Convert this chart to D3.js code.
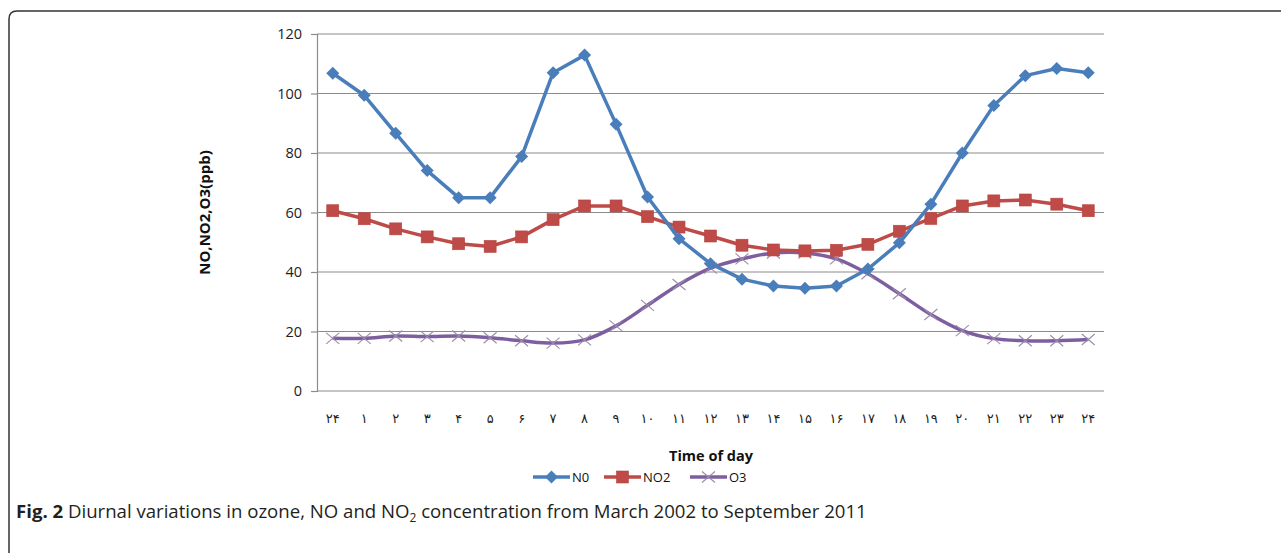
<!DOCTYPE html>
<html>
<head>
<meta charset="utf-8">
<script src="https://cdn.jsdelivr.net/npm/d3@7"></script>
<style>
  body { margin: 0; background: #fff; }
  text { font-family: "Open Sans", "Noto Sans", sans-serif; }
</style>
</head>
<body>
<script>
// hours of the day, Persian digits as in the figure
var hours = ["۲۴", "۱", "۲", "۳", "۴", "۵", "۶", "۷", "۸", "۹", "۱۰", "۱۱", "۱۲",
             "۱۳", "۱۴", "۱۵", "۱۶", "۱۷", "۱۸", "۱۹", "۲۰", "۲۱", "۲۲", "۲۳", "۲۴"];

var noValues = [106.8, 99.4, 86.6, 74.1, 65.0, 65.0, 78.8, 107.0, 112.9, 89.7, 65.2, 51.2, 42.8,
                37.6, 35.3, 34.5, 35.3, 41.0, 49.8, 62.8, 80.0, 96.0, 106.0, 108.4, 107.0];
var no2Values = [60.6, 57.9, 54.5, 51.8, 49.5, 48.6, 51.8, 57.6, 62.2, 62.2, 58.6, 55.1, 52.1,
                 49.0, 47.4, 47.1, 47.3, 49.3, 53.7, 58.0, 62.2, 63.9, 64.2, 62.8, 60.6];
var o3Values = [17.7, 17.7, 18.5, 18.3, 18.5, 17.9, 16.9, 16.1, 17.2, 21.9, 28.8, 35.8, 41.3,
                44.4, 46.4, 46.4, 44.4, 39.4, 32.7, 25.7, 20.3, 17.6, 16.9, 16.9, 17.3];
var yTicks = [0, 20, 40, 60, 80, 100, 120];

var seriesNames = ["N0", "NO2", "O3"];
var seriesColors = ["#4a7ebb", "#be4b48", "#7d5fa0"];

window.onload = function() {
    var w = 1281, h = 553;
    var svg = d3.select("body").append("svg")
        .attr("width", w)
        .attr("height", h);

    // figure frame (rounded top-left corner)
    svg.append("path")
        .attr("d", "M9,553 L9,19 Q9,11 17,11 L1281,11")
        .attr("fill", "none")
        .attr("stroke", "#333")
        .attr("stroke-width", 1.5);

    var left = 317, right = 1104, top = 34, bottom = 391;

    var x = d3.scalePoint()
        .domain(d3.range(hours.length))
        .range([left, right])
        .padding(0.5);

    var y = d3.scaleLinear()
        .domain([0, 120])
        .range([bottom, top]);

    // gridlines
    svg.append("g").selectAll("line")
        .data(yTicks.slice(1))
        .enter().append("line")
        .attr("x1", left).attr("x2", right)
        .attr("y1", function(d) { return y(d); })
        .attr("y2", function(d) { return y(d); })
        .attr("stroke", "#8c8c8c")
        .attr("stroke-width", 1.2);

    // y axis
    var yAxis = d3.axisLeft(y).tickValues(yTicks).tickSize(6).tickPadding(9);
    var ya = svg.append("g")
        .attr("transform", "translate(" + left + ",0)")
        .call(yAxis);
    ya.select(".domain").attr("stroke", "#8c8c8c").attr("stroke-width", 1.2);
    ya.selectAll(".tick line").attr("stroke", "#8c8c8c").attr("stroke-width", 1.2);
    ya.selectAll("text")
        .attr("font-family", "'Open Sans', sans-serif")
        .attr("font-size", 14.5)
        .attr("fill", "#222");

    // x axis baseline
    svg.append("line")
        .attr("x1", left).attr("x2", right)
        .attr("y1", bottom).attr("y2", bottom)
        .attr("stroke", "#8c8c8c")
        .attr("stroke-width", 1.2);

    // x labels
    svg.append("g").selectAll("text")
        .data(hours)
        .enter().append("text")
        .attr("x", function(d, i) { return x(i); })
        .attr("y", 423)
        .attr("text-anchor", "middle")
        .style("font-family", "'DejaVu Sans', sans-serif")
        .style("font-size", "13px")
        .style("letter-spacing", "2px")
        .attr("fill", "#222")
        .text(function(d) { return d; });

    // axis titles
    svg.append("text")
        .attr("transform", "translate(210," + ((top + bottom) / 2) + ") rotate(-90)")
        .attr("text-anchor", "middle")
        .style("font-size", "15px")
        .style("font-weight", "bold")
        .attr("fill", "#111")
        .text("NO,NO2,O3(ppb)");

    svg.append("text")
        .attr("x", 711)
        .attr("y", 461)
        .attr("text-anchor", "middle")
        .style("font-size", "14.5px")
        .style("font-weight", "bold")
        .attr("fill", "#111")
        .text("Time of day");

    var allSeries = [noValues, no2Values, o3Values];

    var straight = d3.line()
        .x(function(d, i) { return x(i); })
        .y(function(d) { return y(d); });
    var smooth = d3.line()
        .x(function(d, i) { return x(i); })
        .y(function(d) { return y(d); })
        .curve(d3.curveCatmullRom.alpha(0.5));

    // draw O3 first so NO and NO2 sit on top
    [2, 1, 0].forEach(function(k) {
        var vals = allSeries[k];
        var col = seriesColors[k];
        svg.append("path")
            .datum(vals)
            .attr("d", k === 2 ? smooth : straight)
            .attr("fill", "none")
            .attr("stroke", col)
            .attr("stroke-width", 3.5)
            .attr("stroke-linejoin", "round");

        var m = svg.append("g").selectAll("g")
            .data(vals)
            .enter().append("g")
            .attr("transform", function(d, i) { return "translate(" + x(i) + "," + y(d) + ")"; });
        drawMarker(m, k);
    });

    function drawMarker(sel, k) {
        if (k === 0) {
            sel.append("path")
                .attr("d", "M0,-6.5 L6.5,0 L0,6.5 L-6.5,0 Z")
                .attr("fill", seriesColors[0]);
        } else if (k === 1) {
            sel.append("rect")
                .attr("x", -6).attr("y", -6)
                .attr("width", 12).attr("height", 12)
                .attr("fill", seriesColors[1])
                .attr("stroke", "#b84440")
                .attr("stroke-width", 0.6);
        } else {
            sel.append("path")
                .attr("d", "M-6.5,-5.5 L6.5,5.5 M-6.5,5.5 L6.5,-5.5")
                .attr("stroke", "#9a8bab")
                .attr("stroke-width", 1.1);
        }
    }

    // legend
    var legendX = [533, 604, 690];
    var legend = svg.append("g").selectAll("g")
        .data(seriesNames)
        .enter().append("g")
        .attr("transform", function(d, i) { return "translate(" + legendX[i] + ",477)"; });
    legend.append("line")
        .attr("x1", 0).attr("x2", 37)
        .attr("stroke", function(d, i) { return seriesColors[i]; })
        .attr("stroke-width", 3.5);
    legend.each(function(d, i) {
        var g = d3.select(this).append("g").attr("transform", "translate(18.5,0)");
        drawMarker(g, i);
    });
    legend.append("text")
        .attr("x", 39)
        .attr("y", 4.5)
        .style("font-size", "13px")
        .attr("fill", "#111")
        .text(function(d) { return d; });

    // caption
    var cap = svg.append("text")
        .attr("x", 16)
        .attr("y", 518)
        .style("font-size", "18.6px")
        .attr("fill", "#231f20");
    cap.append("tspan").style("font-weight", "bold").text("Fig. 2");
    cap.append("tspan").text(" Diurnal variations in ozone, NO and NO");
    cap.append("tspan").attr("dy", 4).style("font-size", "12px").text("2");
    cap.append("tspan").attr("dy", -4).text(" concentration from March 2002 to September 2011");
};
</script>
</body>
</html>
